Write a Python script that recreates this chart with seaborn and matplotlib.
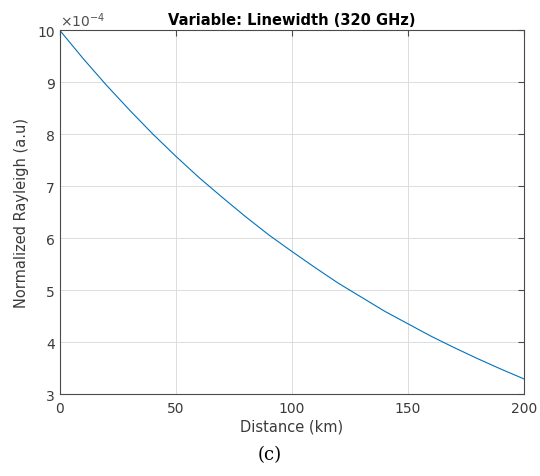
import matplotlib
matplotlib.use("Agg")
import matplotlib.pyplot as plt
import seaborn as sns
import pandas as pd

distance_km = [0, 10, 20, 30, 40, 50, 60, 70, 80, 90, 100,
               110, 120, 130, 140, 150, 160, 170, 180, 190, 200]
rayleigh_e4 = [10.0, 9.46, 8.95, 8.47, 8.01, 7.58, 7.17, 6.79, 6.42, 6.07, 5.75,
               5.44, 5.14, 4.87, 4.60, 4.36, 4.12, 3.90, 3.69, 3.49, 3.30]
x_ticks = [0, 50, 100, 150, 200]
y_ticks = [3, 4, 5, 6, 7, 8, 9, 10]

sns.set_style("white")
plt.rcParams['font.family'] = ['DejaVu Sans']

df = pd.DataFrame({"d": distance_km, "r": rayleigh_e4})

fig = plt.figure(figsize=(5.4, 4.77), dpi=100)
ax = fig.add_axes([0.111, 0.171, 0.859, 0.763])
sns.lineplot(data=df, x="d", y="r", ax=ax, color="#0072BD", linewidth=0.8)

axc = "#3a3a3a"
ax.set_xlim(0, 200)
ax.set_ylim(3, 10)
ax.set_xticks(x_ticks)
ax.set_yticks(y_ticks)
ax.grid(True, color="#dcdcdc", linewidth=0.7)
for s in ax.spines.values():
    s.set_visible(True)
    s.set_color("#4a4a4a")
    s.set_linewidth(0.8)
ax.tick_params(direction="in", length=4, width=0.8, colors="#4a4a4a", labelsize=10,
               top=True, right=True, labelcolor=axc)
ax.tick_params(axis="x", pad=5)
ax.set_xlabel("Distance (km)", fontsize=10.5, color=axc, labelpad=2)
ax.set_ylabel("Normalized Rayleigh (a.u)", fontsize=10.5, color=axc, labelpad=6)
ax.set_title("Variable: Linewidth (320 GHz)", fontsize=10.5, fontweight="bold",
             color="black", pad=5)
ax.text(0.0, 1.003, r"$\times10^{-4}$", transform=ax.transAxes, fontsize=10,
        color="#505050", ha="left", va="bottom")
fig.text(0.5, 0.045, "(c)", ha="center", va="center", fontsize=13,
         family="DejaVu Serif", color="black")

fig.savefig("out.png", dpi=100)
